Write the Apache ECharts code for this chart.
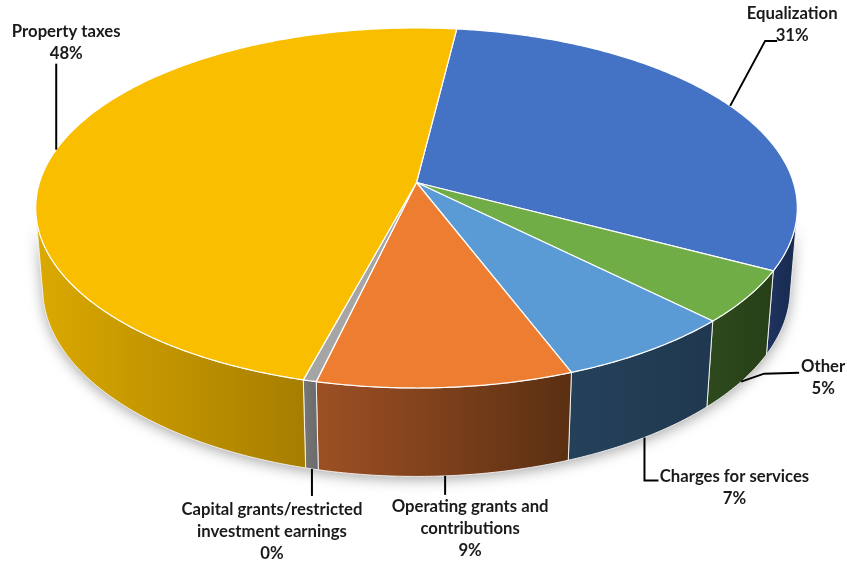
<!DOCTYPE html>
<html><head><meta charset="utf-8">
<script src="https://cdn.jsdelivr.net/npm/echarts@6/dist/echarts.min.js"></script>
<style>html,body{margin:0;padding:0;background:#fff}#c{width:847px;height:565px}</style>
</head><body><div id="c"></div>
<script>
// ---- data (clockwise from the top) ----
const categories = ['Equalization', 'Other', 'Charges for services', 'Operating grants and\ncontributions', 'Capital grants/restricted\ninvestment earnings', 'Property taxes'];
const values = [30.8, 4.75, 6.7, 9.49, 0.49, 47.77];

// ---- styles ----
const topColors = ['#4472C4', '#70AD47', '#5B9BD5', '#ED7D31', '#A5A5A5', '#F9BE00'];
const wallColors = [['#1f3461', '#17294d'], ['#2e4a1d', '#263f17'], ['#25415a', '#1f384f'], ['#9e5024', '#5a2f12'], ['#777777', '#6a6a6a'], ['#dba900', '#a67d00']];
// label layout: leader path offsets relative to anchor, text centre offset
const labelLayout = [
  {path: [[35, -65], [47, -65]], text: [62, -81]},
  {path: [[23, -8], [58, -9]], text: [82, -4]},
  {path: [[0, 43], [14, 43]], text: [90, 50]},
  {path: [[0, 19]], text: [25, 53]},
  {path: [[0, 27]], text: [-40, 63]},
  {path: [[0, -86]], text: [10, -107]}
];

// ---- 3D view geometry ----
const CX = 416.5, CY = 182.5, F = 2356, D = 6.25, SA = 0.468, CA = 0.884, H = 0.244;
const START = 7.0; // degrees clockwise from the back
const VIS0 = Math.acos(-1 / (D * CA)) * 180 / Math.PI, VIS1 = 360 - VIS0;
function proj(theta, y) {
  const t = theta * Math.PI / 180, X = Math.sin(t), Z = -Math.cos(t);
  const depth = D - y * SA - Z * CA;
  const sy = y * CA - Z * SA;
  return [CX + F * X / depth, CY - F * sy / depth];
}
function arc(a, b, y) {
  const pts = [], n = Math.max(2, Math.ceil(Math.abs(b - a) / 0.5));
  for (let i = 0; i <= n; i++) pts.push(proj(a + (b - a) * i / n, y));
  return pts;
}
function wall(a, b) {
  return arc(a, b, 0).concat(arc(b, a, -H));
}

const total = values.reduce((s, v) => s + v, 0);
const starts = [];
let acc = START;
values.forEach(v => { starts.push(acc); acc += v / total * 360; });
const seriesData = values.map((v, i) => [v, starts[i]]);

const FONT = 'bold 16.7px Lato';
function renderItem(params, api) {
  const i = params.dataIndex;
  const v = api.value(0), a = api.value(1), b = a + v / total * 360;
  const children = [];
  if (i === 0) {
    children.push({type: 'polygon', z2: 0, shape: {points: wall(VIS0, VIS1)},
      style: {fill: '#888', shadowBlur: 14, shadowColor: 'rgba(0,0,0,0.35)', shadowOffsetY: 3}});
  }
  // visible wall part (handles wrap around 360)
  [[a, b], [a - 360, b - 360], [a + 360, b + 360]].forEach(([s, e]) => {
    const s2 = Math.max(s, VIS0), e2 = Math.min(e, VIS1);
    if (e2 > s2) {
      children.push({type: 'polygon', z2: 1, shape: {points: wall(s2, e2)},
        style: {fill: new echarts.graphic.LinearGradient(0, 0, 1, 0, [{offset: 0, color: wallColors[i][0]}, {offset: 1, color: wallColors[i][1]}]),
          stroke: 'rgba(255,255,255,0.85)', lineWidth: 1}});
    }
  });
  // top face
  children.push({type: 'polygon', z2: 2, shape: {points: [[CX, CY]].concat(arc(a, b, 0))},
    style: {fill: topColors[i], stroke: '#ffffff', lineWidth: 1.2, lineJoin: 'round'}});
  // label anchor
  let mid = (a + b) / 2; const m = ((mid % 360) + 360) % 360;
  const front = m > VIS0 && m < VIS1;
  const A = proj(mid, front ? -H : 0);
  const L = labelLayout[i];
  const pts = [A].concat(L.path.map(p => [A[0] + p[0], A[1] + p[1]]));
  children.push({type: 'polyline', z2: 3, shape: {points: pts}, style: {stroke: '#000', lineWidth: 2, fill: null}});
  const pct = Math.round(v / total * 100) + '%';
  children.push({type: 'text', z2: 4, style: {text: categories[i] + '\n' + pct, x: A[0] + L.text[0], y: A[1] + L.text[1],
    align: 'center', verticalAlign: 'middle', font: FONT, lineHeight: 22, fill: '#1a1a1a'}});
  return {type: 'group', children};
}

const chart = echarts.init(document.getElementById('c'), null, {renderer: 'canvas'});
chart.setOption({
  animation: false,
  backgroundColor: '#ffffff',
  series: [{type: 'custom', coordinateSystem: 'none', renderItem, data: seriesData, silent: true}]
});
</script></body></html>
